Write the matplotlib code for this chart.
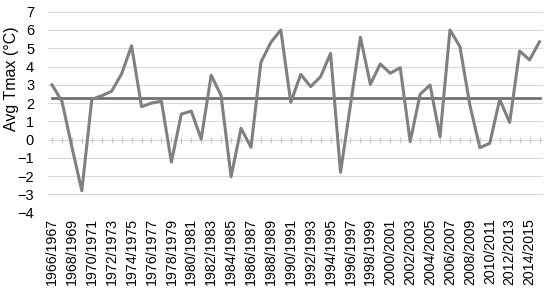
import numpy as np
import matplotlib
matplotlib.use("Agg")
import matplotlib.pyplot as plt

plt.rcParams["font.family"] = ["Liberation Sans", "DejaVu Sans"]

seasons = ["%d/%d" % (y, y + 1) for y in range(1966, 2016)]
tmax = [3.0, 2.1, -0.4, -2.8, 2.2, 2.4, 2.65, 3.6, 5.14, 1.8,
        2.0, 2.1, -1.23, 1.4, 1.56, 0.03, 3.53, 2.4, -2.03, 0.62,
        -0.42, 4.23, 5.32, 6.0, 2.04, 3.57, 2.9, 3.45, 4.72, -1.79,
        1.9, 5.6, 3.03, 4.14, 3.63, 3.94, -0.11, 2.48, 2.99, 0.16,
        6.0, 5.09, 1.89, -0.44, -0.2, 2.2, 0.94, 4.85, 4.36, 5.36]
avg_line = 2.3

x = np.arange(len(seasons))

fig = plt.figure(figsize=(5.5, 2.88), dpi=100)
ax = fig.add_axes([48 / 550, 1 - 212.7 / 288, 495 / 550, 201 / 288])

for v in range(-4, 8):
    ax.axhline(v, color="#d9d9d9", lw=0.8, zorder=0)
ax.plot(x, np.zeros(len(x)), ls="none", marker="|", ms=5, mew=0.9,
        color="#c8c8c8", zorder=1)

ax.plot([x[0], x[-1]], [avg_line, avg_line], color="#707070", lw=2.0, zorder=2)
ax.plot(x, tmax, color="#808080", lw=2.2, zorder=3)

ax.set_xlim(-0.4, 49.35)
ax.set_ylim(-4, 7)
ax.set_yticks(range(-4, 8))
ax.set_xticks(x[::2])
ax.set_xticklabels(seasons[::2], rotation=90)
ax.tick_params(axis="y", length=0, pad=10, labelsize=10.5)
ax.tick_params(axis="x", length=0, pad=4, labelsize=10.2)
for s in ax.spines.values():
    s.set_visible(False)
ax.set_ylabel("Avg Tmax (°C)", fontsize=11.5)
ax.yaxis.set_label_coords(-0.059, 0.665)

fig.savefig("out.png")
plt.close(fig)
